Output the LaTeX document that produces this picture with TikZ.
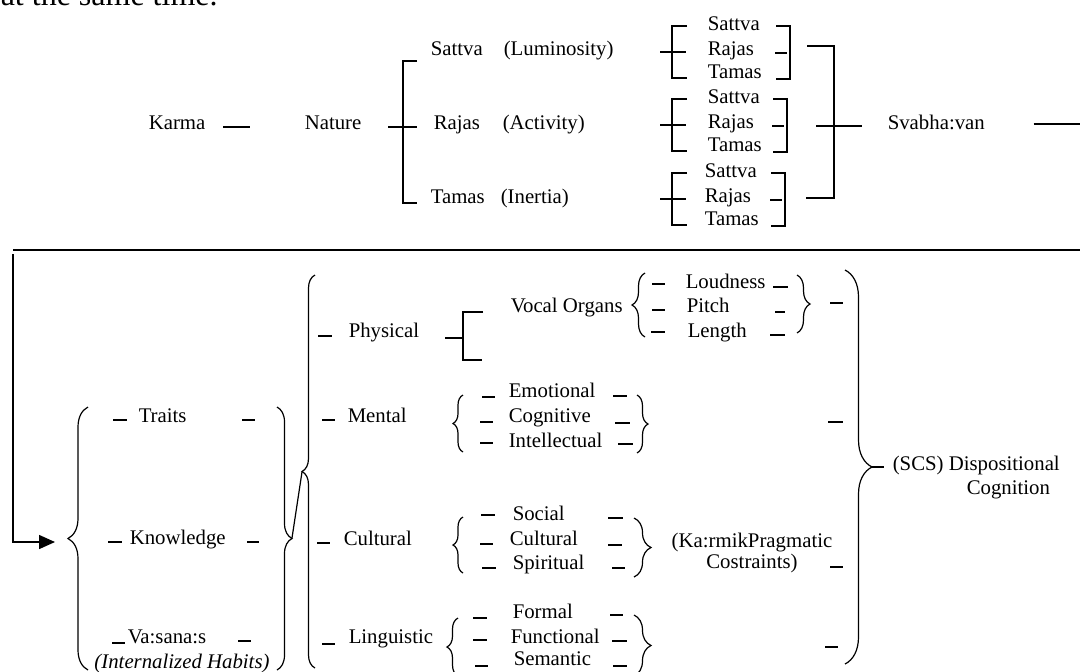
\documentclass[tikz,border=0pt]{standalone}
\usepackage{fontspec}
\setmainfont{Liberation Serif}
\usetikzlibrary{arrows.meta, decorations.pathreplacing}

\newcommand{\dsh}[3]{\draw (#1,#3) -- (#2,#3);}

\begin{document}
\begin{tikzpicture}[
    x=0.5pt, y=-0.5pt,
    font=\fontsize{10.4}{12.5}\selectfont,
    line width=0.75pt,
    lbl/.style={inner sep=0pt, anchor=west, text height=0.68em, text depth=0.12em},
    brc/.style={decorate, decoration={brace, amplitude=#1}, line width=0.6pt},
    >={Triangle[length=8pt, width=7pt]}]

\useasboundingbox (0,0) rectangle (1080,671);

% Top part: Karma - Nature - gunas
\node[anchor=base west, inner sep=0pt, font=\fontsize{16}{19}\selectfont] (cont) at (0,5) {at the same time.};
\node[lbl] (karma) at (148,124) {Karma};
\node[lbl] (nature) at (304,124) {Nature};
\dsh{223}{250}{127}
\draw (388,127) -- (417,127);
\draw (417,61) -- (403,61) -- (403,203) -- (417,203);

\node[lbl] (sat) at (430,50) {Sattva};
\node[lbl] (lum) at (503,50) {(Luminosity)};
\node[lbl] (raj) at (433,124) {Rajas};
\node[lbl] (act) at (502,124) {(Activity)};
\node[lbl] (tam) at (430,198) {Tamas};
\node[lbl] (ine) at (500,198) {(Inertia)};

% three sub groups
\foreach \m/\x/\r [count=\i] in {50/707/790, 123/707/787, 197/704/785} {
  \node[lbl] (s\i) at (\x,\m-25) {Sattva};
  \node[lbl] (r\i) at (\x,\m) {Rajas};
  \node[lbl] (t\i) at (\x,\m+23) {Tamas};
  \draw (660,\m+2) -- (686,\m+2);
  \draw (687,\m-24) -- (672,\m-24) -- (672,\m+28) -- (687,\m+28);
  \draw (\r-14,\m-24) -- (\r,\m-24) -- (\r,\m+29) -- (\r-14,\m+29);
  \draw (\r-15,\m+3) -- (\r-3,\m+3);
}
\draw (807,46) -- (834,46) -- (834,198) -- (806,198);
\draw (816,126) -- (862,126);

\node[lbl] (sva) at (887,124) {Svabha:van};
\coordinate (off) at (1090,124);
\draw ([xshift=24pt]sva.east) -- (off);

% rule and the way back
\draw[line width=1pt] (13,250) -- (1090,250);
\coordinate (up) at (13,254);
\coordinate (turn) at (13,542);
\coordinate (fb) at (55,542);
\draw[->] (up) -- (turn) -- (fb);

% Bottom part: traits, knowledge, vasanas
\draw[brc=10pt] (88,670) -- (88,407);
\node[lbl] (traits) at (138,417) {Traits};
\node[lbl] (know) at (129,539) {Knowledge};
\node[lbl] (vas) at (127,638) {Va:sana:s};
\node[inner sep=0pt, font=\fontsize{10.4}{12.5}\selectfont\itshape] (habits) at (182,663) {(Internalized Habits)};
\dsh{113}{127}{420} \dsh{242}{255}{420}
\dsh{108}{122}{542} \dsh{247}{259}{542}
\dsh{112}{125}{643} \dsh{238}{251}{641}
\draw[brc=7.5pt] (277,407) -- (277,670);
\coordinate (ktip) at (292,538);
\coordinate (ctip) at (302,472);
\draw[line width=0.6pt] (ktip) -- (ctip);
\draw[brc=6.5pt] (315,668) -- (315,275);

% four kinds
\node[lbl] (phys) at (348,332) {Physical};
\node[lbl] (ment) at (347,417) {Mental};
\node[lbl] (cult) at (343,540) {Cultural};
\node[lbl] (ling) at (348,638) {Linguistic};
\dsh{318}{332}{336}
\dsh{322}{335}{420}
\dsh{317}{330}{543}
\dsh{322}{335}{644}

% Physical
\draw (445,338) -- (463,338);
\draw (483,312) -- (463,312) -- (463,360) -- (482,360);
\node[lbl] (vocal) at (510,307) {Vocal Organs};
\draw[brc=6.5pt] (645,337) -- (645,273);
\node[lbl] (loud) at (685,283) {Loudness};
\node[lbl] (pitch) at (686,307) {Pitch};
\node[lbl] (len) at (687,332) {Length};
\dsh{652}{665}{284} \dsh{652}{665}{310} \dsh{651}{665}{332}
\dsh{773}{788}{287} \dsh{775}{785}{312} \dsh{770}{785}{335}
\draw[brc=6.5pt] (797,275) -- (797,333);
\dsh{830}{843}{303}

% Mental
\draw[brc=5pt] (463,452) -- (463,395);
\node[lbl] (emo) at (508,392) {Emotional};
\node[lbl] (cog) at (508,417) {Cognitive};
\node[lbl] (int) at (508,442) {Intellectual};
\dsh{482}{495}{397} \dsh{480}{493}{422} \dsh{480}{493}{443}
\dsh{613}{627}{396} \dsh{615}{630}{423} \dsh{618}{633}{444}
\draw[brc=5.5pt] (637,395) -- (637,453);
\dsh{828}{843}{422}

% Cultural
\draw[brc=5pt] (463,573) -- (463,517);
\node[lbl] (soc) at (512,515) {Social};
\node[lbl] (cul) at (509,540) {Cultural};
\node[lbl] (spi) at (512,564) {Spiritual};
\dsh{481}{495}{515} \dsh{480}{493}{544} \dsh{482}{496}{568}
\dsh{608}{623}{518} \dsh{608}{622}{545} \dsh{612}{625}{568}
\draw[brc=8.5pt] (634,518) -- (634,577);
\node[inner sep=0pt, align=center, font=\fontsize{10.4}{10.8}\selectfont] (karmik) at (752,553) {(Ka:rmikPragmatic\\Costraints)};
\dsh{830}{843}{567}

% Linguistic
\draw[brc=5.5pt] (458,676) -- (458,618);
\node[lbl] (form) at (512,613) {Formal};
\node[lbl] (func) at (510,638) {Functional};
\node[lbl] (sem) at (513,660) {Semantic};
\dsh{473}{487}{618} \dsh{473}{487}{640} \dsh{475}{488}{666}
\dsh{610}{623}{615} \dsh{612}{627}{641} \dsh{613}{627}{666}
\draw[brc=8.5pt] (634,615) -- (634,676);
\dsh{825}{838}{647}

% Dispositional cognition
\draw[brc=13.5pt] (845,270) -- (845,664);
\coordinate (stip) at (872,467);
\node[inner sep=0pt, anchor=west, align=left, font=\fontsize{10.4}{12}\selectfont] (scs) at (892,478) {(SCS) Dispositional\\\hspace*{37pt}Cognition};
\draw (stip) -- ([xshift=-4pt,yshift=5.5pt]scs.west);
\end{tikzpicture}
\end{document}
